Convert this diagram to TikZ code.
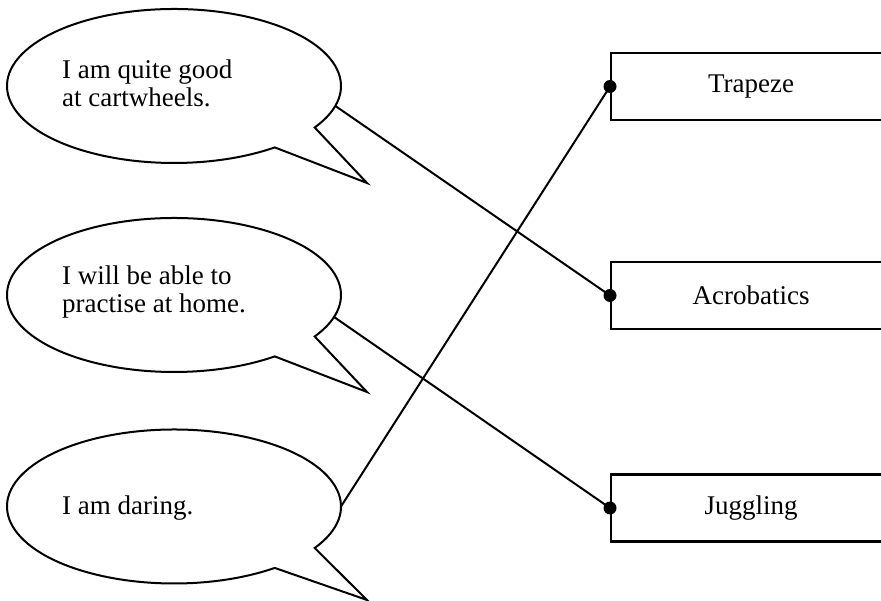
\documentclass[tikz,border=0pt]{standalone}
\usepackage{fontspec}
\setmainfont{Liberation Serif}
\begin{document}
\begin{tikzpicture}[x=1pt,y=1pt,
  bubble/.style={draw, line width=2pt, line join=miter},
  box/.style={draw, line width=2.2pt, minimum width=280pt, minimum height=67pt, inner sep=0pt, font=\fontsize{27}{28.5}\selectfont, anchor=west},
  said/.style={font=\fontsize{27}{28.4}\selectfont, align=left, anchor=base west, inner sep=0pt},
  link/.style={line width=2pt},
  dot/.style={fill, circle, inner sep=0pt, minimum size=13pt}]
\useasboundingbox (0,0) rectangle (881,601);
\clip (0,0) rectangle (881,601);
% bubbles
\draw[bubble] (174,515) ++(-32.6:167pt and 77pt) arc[start angle=-32.6, end angle=307.1, x radius=167pt, y radius=77pt] -- (367,418) -- cycle;
\draw[bubble] (174,306) ++(-32.6:167pt and 77pt) arc[start angle=-32.6, end angle=307.1, x radius=167pt, y radius=77pt] -- (367,209) -- cycle;
\draw[bubble] (174,94.5) ++(-32.6:167pt and 77pt) arc[start angle=-32.6, end angle=307.1, x radius=167pt, y radius=77pt] -- (367,1) -- cycle;
\path (174,515) ++(-15:167pt and 77pt) coordinate (s1);
\path (174,306) ++(-16.6:167pt and 77pt) coordinate (s2);
\path (174,94.5) ++(0:167pt and 77pt) coordinate (s3);
% texts (base anchor = last line)
\node[said] (t1) at (62,494.5) {I am quite good\\at cartwheels.};
\node[said] (t2) at (62,288.3) {I will be able to\\practise at home.};
\node[said] (t3) at (62,86) {I am daring.};
% boxes
\node[box] (trapeze) at (610,514.5) {Trapeze};
\node[box] (acro) at (610,305.5) {Acrobatics};
\node[box] (jugg) at (610,93) {Juggling};
% connectors
\draw[link] (s1) -- (acro.west);
\draw[link] (s2) -- (jugg.west);
\draw[link] (s3) -- (trapeze.west);
\node[dot] (d1) at (trapeze.west) {};
\node[dot] (d2) at (acro.west) {};
\node[dot] (d3) at (jugg.west) {};
\end{tikzpicture}
\end{document}
